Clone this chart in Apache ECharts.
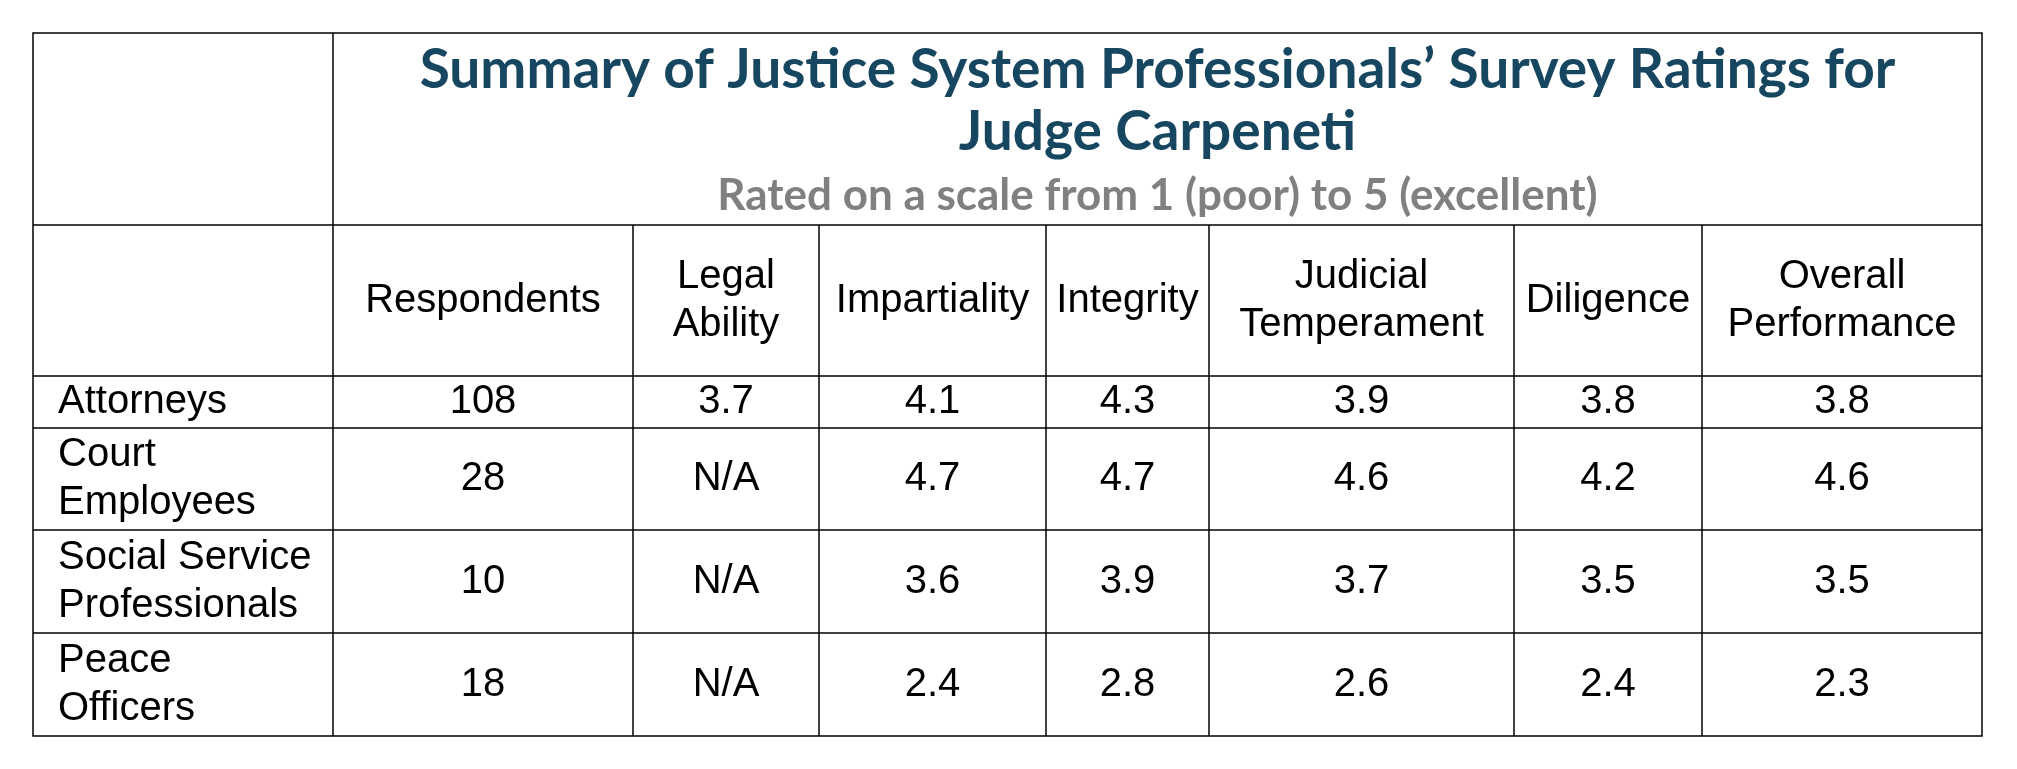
<!DOCTYPE html>
<html><head><meta charset="utf-8">
<script src="https://cdn.jsdelivr.net/npm/echarts@6/dist/echarts.min.js"></script>
<style>html,body{margin:0;background:#fff}#c{width:2017px;height:769px}</style>
</head><body><div id="c"></div>
<script>
const titleLines = ["Summary of Justice System Professionals\u2019 Survey Ratings for", "Judge Carpeneti"];
const subtitle = "Rated on a scale from 1 (poor) to 5 (excellent)";
const headers = ["", "Respondents", "Legal\nAbility", "Impartiality", "Integrity", "Judicial\nTemperament", "Diligence", "Overall\nPerformance"];
const groups = ["Attorneys", "Court\nEmployees", "Social Service\nProfessionals", "Peace\nOfficers"];
const respondents = ["108", "28", "10", "18"];
const legalAbility = ["3.7", "N/A", "N/A", "N/A"];
const impartiality = ["4.1", "4.7", "3.6", "2.4"];
const integrity = ["4.3", "4.7", "3.9", "2.8"];
const temperament = ["3.9", "4.6", "3.7", "2.6"];
const diligence = ["3.8", "4.2", "3.5", "2.4"];
const overall = ["3.8", "4.6", "3.5", "2.3"];

const colX = [33, 333, 633, 819, 1046, 1209, 1514, 1702, 1982];
const rowY = [33, 225, 376, 428, 530, 633, 736];
const cols = [groups, respondents, legalAbility, impartiality, integrity, temperament, diligence, overall];
const body = '"Liberation Sans", Arial, sans-serif';
const els = [];
const line = (x1,y1,x2,y2)=>els.push({type:'line',shape:{x1,y1,x2,y2},style:{stroke:'#000',lineWidth:1.5}});
els.push({type:'rect',shape:{x:colX[0],y:rowY[0],width:colX[8]-colX[0],height:rowY[6]-rowY[0]},style:{fill:'none',stroke:'#000',lineWidth:1.5}});
for(let i=1;i<rowY.length-1;i++) line(colX[0],rowY[i],colX[8],rowY[i]);
line(colX[1],rowY[0],colX[1],rowY[6]);
for(let j=2;j<colX.length-1;j++) line(colX[j],rowY[1],colX[j],rowY[6]);
const tcx=(colX[1]+colX[8])/2;
const tf='"Lato", sans-serif';
els.push({type:'text',x:tcx,y:70,style:{text:titleLines[0],fill:'#174660',font:'bold 55px '+tf,align:'center',verticalAlign:'middle'}});
els.push({type:'text',x:tcx,y:132,style:{text:titleLines[1],fill:'#174660',font:'bold 55px '+tf,align:'center',verticalAlign:'middle'}});
els.push({type:'text',x:tcx,y:196,style:{text:subtitle,fill:'#808080',font:'bold 44px '+tf,align:'center',verticalAlign:'middle'}});
for(let j=1;j<headers.length;j++){
  els.push({type:'text',x:(colX[j]+colX[j+1])/2,y:(rowY[1]+rowY[2])/2,style:{text:headers[j],fill:'#000',font:'40px '+body,lineHeight:48,align:'center',verticalAlign:'middle'}});
}
for(let r=0;r<4;r++){
  const cy=(rowY[r+2]+rowY[r+3])/2;
  els.push({type:'text',x:58,y:cy,style:{text:groups[r],fill:'#000',font:'40px '+body,lineHeight:48,align:'left',verticalAlign:'middle'}});
  for(let j=1;j<cols.length;j++){
    els.push({type:'text',x:(colX[j]+colX[j+1])/2,y:cy,style:{text:cols[j][r],fill:'#000',font:'40px '+body,align:'center',verticalAlign:'middle'}});
  }
}
const chart=echarts.init(document.getElementById('c'));
chart.setOption({animation:false,graphic:{elements:els}});
</script></body></html>
